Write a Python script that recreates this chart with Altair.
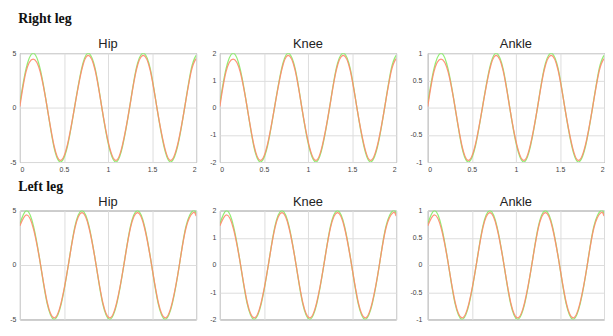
import altair as alt
import pandas as pd

# ---- time stamps (s) ----
right_t = [0.00, 0.07, 0.15, 0.23, 0.31, 0.385, 0.46, 0.54, 0.62, 0.70, 0.775, 0.855, 0.93,
           1.01, 1.09, 1.165, 1.245, 1.32, 1.40, 1.48, 1.555, 1.635, 1.71, 1.79, 1.87, 1.945, 2.00]
left_t = [0.00, 0.075, 0.155, 0.235, 0.31, 0.39, 0.47, 0.55, 0.625, 0.705, 0.785, 0.865, 0.94,
          1.02, 1.10, 1.18, 1.255, 1.335, 1.415, 1.495, 1.57, 1.65, 1.73, 1.81, 1.885, 1.965, 2.00]

# ---- right leg ----
right_hip_green = [0.4, 3.55, 5.0, 3.55, 0.0, -3.55, -5.0, -3.55, 0.0, 3.55, 5.0, 3.55, 0.0,
                   -3.55, -5.0, -3.55, 0.0, 3.55, 5.0, 3.55, 0.0, -3.55, -5.0, -3.55, 0.0, 3.55, 4.8]
right_hip_red = [0.1, 3.3, 4.45, 3.3, 0.0, -3.4, -4.85, -3.4, 0.0, 3.4, 4.8, 3.4, 0.0,
                 -3.4, -4.85, -3.4, 0.0, 3.4, 4.8, 3.4, 0.0, -3.4, -4.85, -3.4, 0.0, 3.35, 4.5]
right_knee_green = [0.16, 1.42, 2.0, 1.42, 0.0, -1.42, -2.0, -1.42, 0.0, 1.42, 2.0, 1.42, 0.0,
                    -1.42, -2.0, -1.42, 0.0, 1.42, 2.0, 1.42, 0.0, -1.42, -2.0, -1.42, 0.0, 1.42, 1.92]
right_knee_red = [0.04, 1.32, 1.78, 1.32, 0.0, -1.36, -1.94, -1.36, 0.0, 1.36, 1.92, 1.36, 0.0,
                  -1.36, -1.94, -1.36, 0.0, 1.36, 1.92, 1.36, 0.0, -1.36, -1.94, -1.36, 0.0, 1.34, 1.8]
right_ankle_green = [0.08, 0.71, 1.0, 0.71, 0.0, -0.71, -1.0, -0.71, 0.0, 0.71, 1.0, 0.71, 0.0,
                     -0.71, -1.0, -0.71, 0.0, 0.71, 1.0, 0.71, 0.0, -0.71, -1.0, -0.71, 0.0, 0.71, 0.96]
right_ankle_red = [0.02, 0.66, 0.89, 0.66, 0.0, -0.68, -0.97, -0.68, 0.0, 0.68, 0.96, 0.68, 0.0,
                   -0.68, -0.97, -0.68, 0.0, 0.68, 0.96, 0.68, 0.0, -0.68, -0.97, -0.68, 0.0, 0.67, 0.90]

# ---- left leg ----
left_hip_green = [3.8, 5.0, 3.55, 0.0, -3.55, -5.0, -3.55, 0.0, 3.55, 5.0, 3.55, 0.0, -3.55,
                  -5.0, -3.55, 0.0, 3.55, 5.0, 3.55, 0.0, -3.55, -5.0, -3.55, 0.0, 3.55, 5.0, 4.7]
left_hip_red = [3.6, 4.6, 3.3, 0.0, -3.4, -4.85, -3.4, 0.0, 3.4, 4.8, 3.4, 0.0, -3.4,
                -4.85, -3.4, 0.0, 3.4, 4.8, 3.4, 0.0, -3.4, -4.85, -3.4, 0.0, 3.4, 4.8, 4.5]
left_knee_green = [1.52, 2.0, 1.42, 0.0, -1.42, -2.0, -1.42, 0.0, 1.42, 2.0, 1.42, 0.0, -1.42,
                   -2.0, -1.42, 0.0, 1.42, 2.0, 1.42, 0.0, -1.42, -2.0, -1.42, 0.0, 1.42, 2.0, 1.88]
left_knee_red = [1.44, 1.84, 1.32, 0.0, -1.36, -1.94, -1.36, 0.0, 1.36, 1.92, 1.36, 0.0, -1.36,
                 -1.94, -1.36, 0.0, 1.36, 1.92, 1.36, 0.0, -1.36, -1.94, -1.36, 0.0, 1.36, 1.92, 1.8]
left_ankle_green = [0.76, 1.0, 0.71, 0.0, -0.71, -1.0, -0.71, 0.0, 0.71, 1.0, 0.71, 0.0, -0.71,
                    -1.0, -0.71, 0.0, 0.71, 1.0, 0.71, 0.0, -0.71, -1.0, -0.71, 0.0, 0.71, 1.0, 0.94]
left_ankle_red = [0.72, 0.92, 0.66, 0.0, -0.68, -0.97, -0.68, 0.0, 0.68, 0.96, 0.68, 0.0, -0.68,
                  -0.97, -0.68, 0.0, 0.68, 0.96, 0.68, 0.0, -0.68, -0.97, -0.68, 0.0, 0.68, 0.96, 0.90]

x_ticks = [0, 0.5, 1, 1.5, 2]
hip_ticks = [-5, 0, 5]
knee_ticks = [-2, -1, 0, 1, 2]
ankle_ticks = [-1, -0.5, 0, 0.5, 1]

GREEN = "#86ec66"
RED = "#ff8a6c"


def panel(title, t, g_v, r_v, ymax, yticks, ypad, xpad):
    df = pd.DataFrame({
        "t": t + t,
        "v": g_v + r_v,
        "s": ["green"] * len(t) + ["red"] * len(t),
    })
    return alt.Chart(
        df,
        title=alt.Title(title, font="Liberation Sans", fontSize=13, fontWeight="normal",
                        color="#222222", offset=-2),
    ).mark_line(interpolate="natural", strokeWidth=1.3, clip=True, opacity=0.9).encode(
        x=alt.X("t:Q", scale=alt.Scale(domain=[0, 2], nice=False),
                axis=alt.Axis(values=x_ticks, title=None, labelExpr="'' + datum.value",
                              labelPadding=xpad)),
        y=alt.Y("v:Q", scale=alt.Scale(domain=[-ymax, ymax], nice=False),
                axis=alt.Axis(values=yticks, title=None, labelExpr="'' + datum.value",
                              labelPadding=ypad)),
        color=alt.Color("s:N", scale=alt.Scale(domain=["green", "red"], range=[GREEN, RED]),
                        legend=None),
    ).properties(width=178, height=110)


def row(label, t, side, off, xpad):
    return alt.hconcat(
        panel("Hip", t, *side[0], 5, hip_ticks, 4, xpad),
        panel("Knee", t, *side[1], 2, knee_ticks, 4, xpad),
        panel("Ankle", t, *side[2], 1, ankle_ticks, 6, xpad),
        spacing=12,
        title=alt.Title(label, anchor="start", font="Liberation Serif", fontSize=14,
                        fontWeight="bold", color="#111111", offset=off, dx=9),
    )


right = [
    (right_hip_green, right_hip_red),
    (right_knee_green, right_knee_red),
    (right_ankle_green, right_ankle_red),
]
left = [
    (left_hip_green, left_hip_red),
    (left_knee_green, left_knee_red),
    (left_ankle_green, left_ankle_red),
]

chart = alt.vconcat(
    row("Right leg", right_t, right, 12, 4),
    row("Left leg", left_t, left, 1, 2),
    spacing=6,
).properties(
    padding={"left": 1, "top": 2, "right": 0, "bottom": -8}
).configure_view(
    stroke="#7a7a7a", strokeWidth=1
).configure_axis(
    domain=False, ticks=False, grid=True, gridColor="#dddddd", gridWidth=1,
    labelFont="Liberation Sans", labelFontSize=7, labelColor="#444444",
)

chart.save("out.html", embed_options={"renderer": "svg", "actions": False})
